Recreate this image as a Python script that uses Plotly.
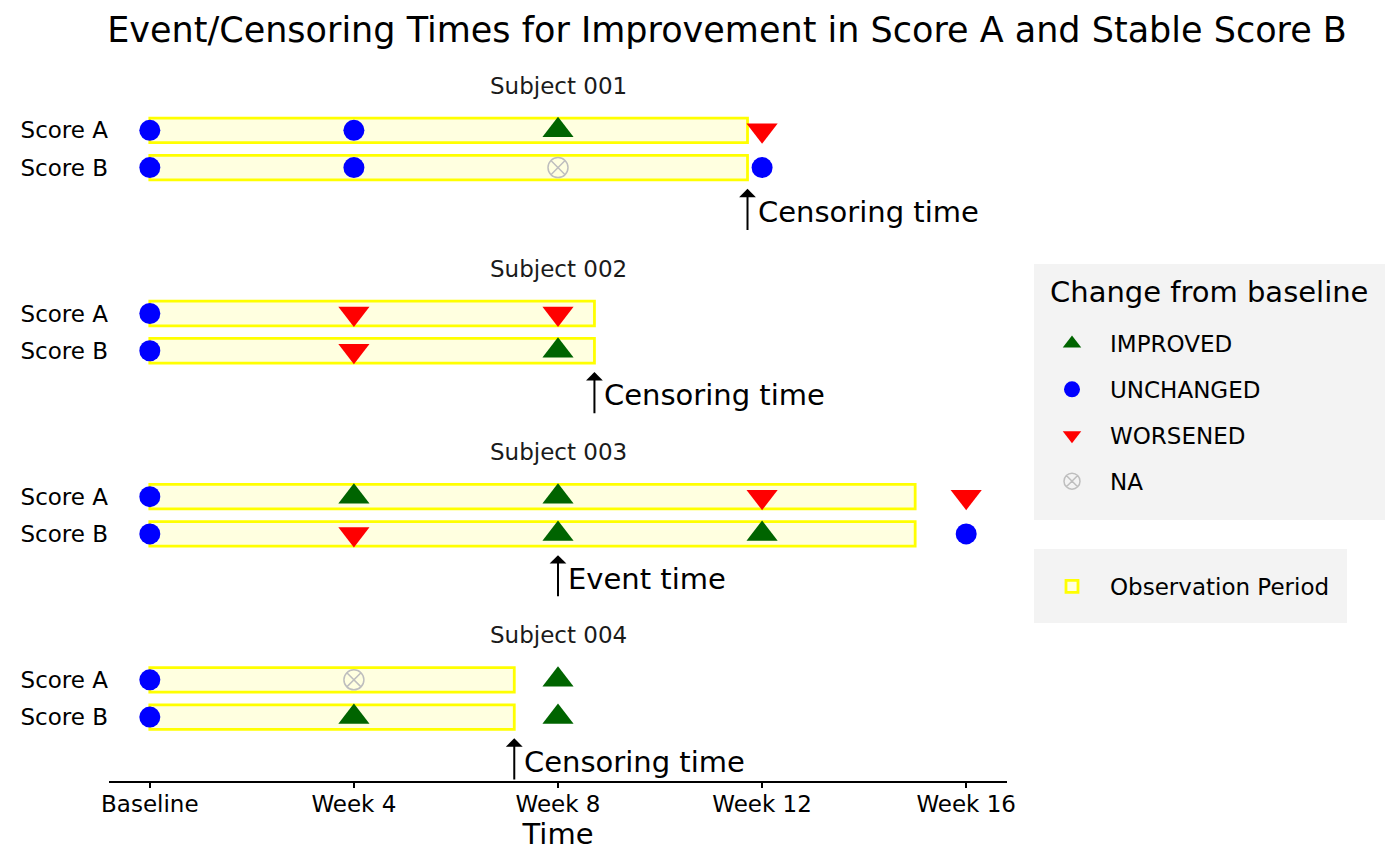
import plotly.graph_objects as go
from plotly.subplots import make_subplots

# visits (days since baseline) and their axis labels
visit_days = [0, 28, 56, 84, 112]
visit_labels = ['Baseline', 'Week 4', 'Week 8', 'Week 12', 'Week 16']

subjects = ['001', '002', '003', '004']
scores = ['Score A', 'Score B']

# change from baseline at each visit, per subject
score_a_status = [
    ['UNCHANGED', 'UNCHANGED', 'IMPROVED', 'WORSENED'],
    ['UNCHANGED', 'WORSENED', 'WORSENED'],
    ['UNCHANGED', 'IMPROVED', 'IMPROVED', 'WORSENED', 'WORSENED'],
    ['UNCHANGED', 'NA', 'IMPROVED'],
]
score_b_status = [
    ['UNCHANGED', 'UNCHANGED', 'NA', 'UNCHANGED'],
    ['UNCHANGED', 'WORSENED', 'IMPROVED'],
    ['UNCHANGED', 'WORSENED', 'IMPROVED', 'IMPROVED', 'UNCHANGED'],
    ['UNCHANGED', 'IMPROVED', 'IMPROVED'],
]

# end of observation period and event/censoring time (days)
obs_end = [82, 61, 105, 50]
event_day = [82, 61, 56, 50]
event_label = ['Censoring time', 'Censoring time', 'Event time', 'Censoring time']

statuses = ['IMPROVED', 'UNCHANGED', 'WORSENED', 'NA']
status_style = {
    'IMPROVED': dict(symbol='triangle-up', color='#006400', size=27),
    'UNCHANGED': dict(symbol='circle', color='#0000ff', size=21),
    'WORSENED': dict(symbol='triangle-down', color='#ff0000', size=27),
    'NA': dict(symbol='circle-x-open', color='#bebebe', size=20, line=dict(color='#bebebe', width=1.5)),
}

W, H = 1400, 865
L, R, T, B = 109, 393, 108, 84
pw, ph = W - L - R, H - T - B


def px(x):
    return (x - L) / pw


def py(y):
    return (H - B - y) / ph


fig = make_subplots(rows=4, cols=1, shared_xaxes=True, vertical_spacing=0.0886,
                    subplot_titles=[f'Subject {s}' for s in subjects])

for ann in fig.layout.annotations:
    ann.font = dict(size=23, color='#1a1a1a')
    ann.yshift = 7

# observation periods
for i in range(len(subjects)):
    fig.add_trace(go.Bar(x=[obs_end[i], obs_end[i]], y=scores, base=0, orientation='h', width=0.66,
                         marker=dict(color='#ffffe0', line=dict(color='#ffff00', width=2.8)),
                         name='Observation Period', legend='legend2', showlegend=(i == 0),
                         hoverinfo='skip'), row=i + 1, col=1)

# visit markers
for status in statuses:
    first = True
    for i in range(len(subjects)):
        xs, ys = [], []
        for score, lst in zip(scores, [score_a_status[i], score_b_status[i]]):
            for day, st in zip(visit_days, lst):
                if st == status:
                    xs.append(day)
                    ys.append(score)
        if not xs:
            continue
        fig.add_trace(go.Scatter(x=xs, y=ys, mode='markers', name=status, legendgroup=status,
                                 showlegend=first, legend='legend',
                                 marker=status_style[status]), row=i + 1, col=1)
        first = False

# event / censoring arrows
for i in range(len(subjects)):
    xr = 'x' if i == 0 else f'x{i + 1}'
    yr = 'y' if i == 0 else f'y{i + 1}'
    fig.add_annotation(x=event_day[i], y=-0.57, ax=event_day[i], ay=-1.716,
                       xref=xr, yref=yr, axref=xr, ayref=yr, text='', showarrow=True,
                       arrowhead=1, arrowsize=1.4, arrowwidth=2, arrowcolor='black')
    fig.add_annotation(x=event_day[i], y=-1.2, xref=xr, yref=yr, text=event_label[i],
                       showarrow=False, xanchor='left', yanchor='middle', xshift=8,
                       font=dict(size=29, color='black'))

# legend panels (grey backgrounds + title)
fig.add_shape(type='rect', xref='paper', yref='paper', x0=px(1034), x1=px(1385), y0=py(520), y1=py(264),
              fillcolor='#f3f3f3', line_width=0, layer='below')
fig.add_shape(type='rect', xref='paper', yref='paper', x0=px(1034), x1=px(1347), y0=py(623), y1=py(549),
              fillcolor='#f3f3f3', line_width=0, layer='below')
fig.add_annotation(xref='paper', yref='paper', x=px(1048), y=py(292), text='Change from baseline',
                   showarrow=False, xanchor='left', yanchor='middle', font=dict(size=29, color='black'))

fig.update_yaxes(type='category', categoryorder='array', categoryarray=['Score B', 'Score A'],
                 range=[-1.716, 1.6], showgrid=False, zeroline=False, showline=False, ticks='',
                 tickfont=dict(size=23, color='black'))
fig.update_xaxes(range=[-5.6, 117.6], tickvals=visit_days, ticktext=visit_labels,
                 showgrid=False, zeroline=False, showline=False, ticks='')
fig.update_xaxes(showline=True, linecolor='black', linewidth=2, ticks='outside', ticklen=5,
                 tickwidth=2, tickcolor='black', tickfont=dict(size=23, color='black'),
                 ticklabelstandoff=-4,
                 title=dict(text='Time', font=dict(size=29, color='black'), standoff=6),
                 row=4, col=1)

fig.update_layout(
    width=W, height=H,
    font=dict(family='DejaVu Sans', color='black'),
    title=dict(text='Event/Censoring Times for Improvement in Score A and Stable Score B',
               x=727 / W, xanchor='center', y=1 - 30 / H, yanchor='middle',
               font=dict(size=35, color='black')),
    margin=dict(l=L, r=R, t=T, b=B, autoexpand=False),
    plot_bgcolor='white', paper_bgcolor='white',
    legend=dict(x=px(1034), y=py(322), xanchor='left', yanchor='top', bgcolor='rgba(0,0,0,0)',
                font=dict(size=23, color='black'), tracegroupgap=13, itemsizing='trace',
                itemwidth=66),
    legend2=dict(x=px(1034), y=py(565), xanchor='left', yanchor='top', bgcolor='rgba(0,0,0,0)',
                 font=dict(size=23, color='black'), itemwidth=66),
)

fig.write_html("out.html", config={'displayModeBar': False},
               post_script="document.body.style.margin='0px';")
